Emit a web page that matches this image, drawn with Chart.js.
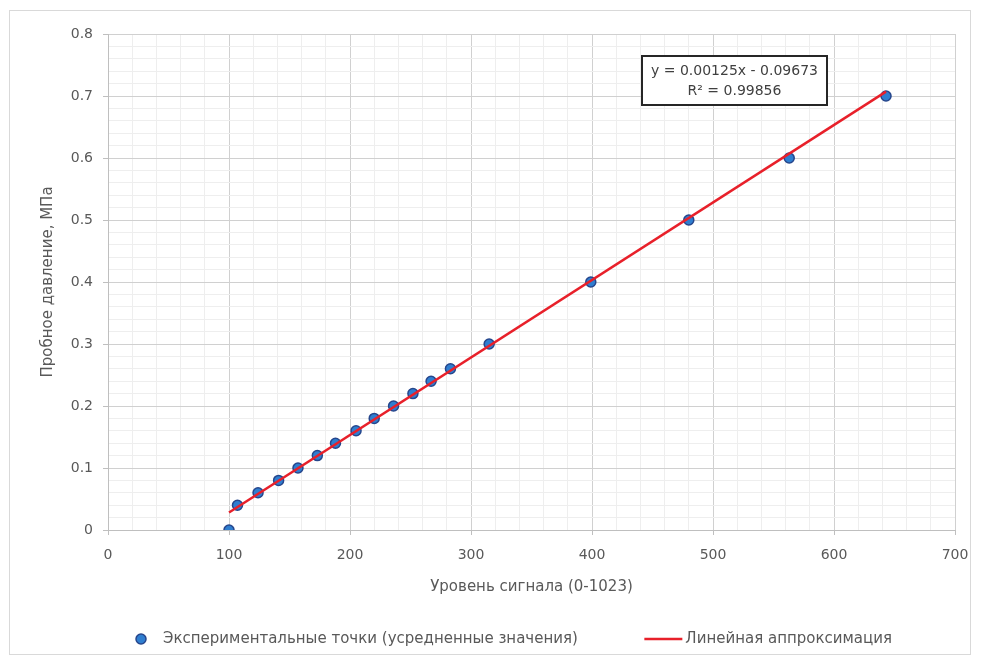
<!DOCTYPE html>
<html>
<head>
<meta charset="utf-8">
<script src="https://cdn.jsdelivr.net/npm/chart.js@4"></script>
<style>
html,body{margin:0;padding:0;background:#fff;}
#wrap{position:relative;width:981px;height:664px;}
canvas{display:block;}
</style>
</head>
<body>
<div id="wrap"><canvas id="c" width="981" height="664"></canvas></div>
<script>
// Data
const signalLevels = [100, 107, 124, 141, 157, 173, 188, 205, 220, 236, 252, 267, 283, 315, 399, 480, 563, 643];
const pressures    = [0, 0.04, 0.06, 0.08, 0.10, 0.12, 0.14, 0.16, 0.18, 0.20, 0.22, 0.24, 0.26, 0.30, 0.40, 0.50, 0.60, 0.70];
const trendSlope = 0.00125;
const trendIntercept = -0.09673;
const trendX = [100, 643];
const trendY = trendX.map(x => trendSlope * x + trendIntercept);
const equationLines = ['y = 0.00125x - 0.09673', 'R² = 0.99856'];
const seriesNames = ['Экспериментальные точки (усредненные значения)', 'Линейная аппроксимация'];
const xTitle = 'Уровень сигнала (0-1023)';
const yTitle = 'Пробное давление, МПа';

const FONT = "'DejaVu Sans', sans-serif";
const TXT = '#595959';
const PT_FILL = '#2F7ED0';
const PT_BORDER = '#26468C';
const LINE_COL = '#E8202A';

const isMajorX = v => Math.abs(v / 100 - Math.round(v / 100)) < 1e-6;
const isMajorY = v => Math.abs(v * 10 - Math.round(v * 10)) < 1e-6;

const frame = {
  id: 'frame',
  beforeDraw(chart) {
    const ctx = chart.ctx;
    ctx.save();
    ctx.fillStyle = '#fff';
    ctx.fillRect(0, 0, chart.width, chart.height);
    ctx.strokeStyle = '#d9d9d9';
    ctx.lineWidth = 1;
    ctx.strokeRect(9.5, 10.5, 961, 644);
    ctx.restore();
  },
  afterDraw(chart) {
    const ctx = chart.ctx;
    const ca = chart.chartArea;
    ctx.save();
    // equation box
    const bx = ca.left + 534, by = ca.top + 22, bw = 185, bh = 49;
    ctx.fillStyle = '#fff';
    ctx.fillRect(bx, by, bw, bh);
    ctx.strokeStyle = '#262626';
    ctx.lineWidth = 2;
    ctx.strokeRect(bx, by, bw, bh);
    ctx.fillStyle = '#404040';
    ctx.font = '14px ' + FONT;
    ctx.textAlign = 'center';
    ctx.textBaseline = 'middle';
    ctx.fillText(equationLines[0], bx + bw / 2, by + 15);
    ctx.fillText(equationLines[1], bx + bw / 2, by + 35);
    // legend
    const ly = 639;
    ctx.font = '15px ' + FONT;
    ctx.beginPath();
    ctx.arc(141, ly, 5, 0, Math.PI * 2);
    ctx.fillStyle = PT_FILL;
    ctx.fill();
    ctx.lineWidth = 1.5;
    ctx.strokeStyle = PT_BORDER;
    ctx.stroke();
    ctx.fillStyle = TXT;
    ctx.textAlign = 'left';
    ctx.fillText(seriesNames[0], 163, ly);
    const w2 = ctx.measureText(seriesNames[1]).width;
    const t2 = 892 - w2;
    ctx.beginPath();
    ctx.moveTo(t2 - 41, ly);
    ctx.lineTo(t2 - 3, ly);
    ctx.strokeStyle = LINE_COL;
    ctx.lineWidth = 2.5;
    ctx.stroke();
    ctx.fillText(seriesNames[1], t2, ly);
    ctx.restore();
  }
};

new Chart(document.getElementById('c'), {
  type: 'scatter',
  data: {
    datasets: [
      {
        type: 'line',
        label: seriesNames[1],
        data: trendX.map((x, i) => ({x, y: trendY[i]})),
        borderColor: LINE_COL,
        borderWidth: 2.5,
        pointRadius: 0,
        fill: false,
        order: 0
      },
      {
        label: seriesNames[0],
        data: signalLevels.map((x, i) => ({x, y: pressures[i]})),
        backgroundColor: PT_FILL,
        borderColor: PT_BORDER,
        borderWidth: 1.5,
        pointRadius: 5,
        order: 1
      }
    ]
  },
  options: {
    responsive: false,
    animation: false,
    layout: {padding: {left: 0, right: 26, top: 34, bottom: 64}},
    plugins: {legend: {display: false}, tooltip: {enabled: false}},
    scales: {
      x: {
        type: 'linear', min: 0, max: 700,
        ticks: {
          stepSize: 20, autoSkip: false, maxRotation: 0, padding: 12,
          color: TXT, font: {family: FONT, size: 14},
          callback: v => isMajorX(v) ? String(Math.round(v)) : ''
        },
        grid: {
          color: ctx => isMajorX(ctx.tick.value) ? '#d0d0d0' : '#eeeeee',
          tickColor: ctx => isMajorX(ctx.tick.value) ? '#bfbfbf' : 'rgba(0,0,0,0)',
          tickLength: 5, lineWidth: 1
        },
        border: {color: '#bfbfbf'},
        title: {display: true, text: xTitle, color: TXT, font: {family: FONT, size: 15}, padding: {top: 0, bottom: 4}},
        afterFit: s => { s.height = 70; }
      },
      y: {
        type: 'linear', min: 0, max: 0.8,
        ticks: {
          stepSize: 0.02, autoSkip: false, padding: 10,
          color: TXT, font: {family: FONT, size: 14},
          callback: v => isMajorY(v) ? String(Math.round(v * 10) / 10) : ''
        },
        grid: {
          color: ctx => isMajorY(ctx.tick.value) ? '#d0d0d0' : '#eeeeee',
          tickColor: ctx => isMajorY(ctx.tick.value) ? '#bfbfbf' : 'rgba(0,0,0,0)',
          tickLength: 5, lineWidth: 1
        },
        border: {color: '#bfbfbf'},
        title: {display: true, text: yTitle, color: TXT, font: {family: FONT, size: 15}, padding: {top: 39, bottom: 0}},
        afterFit: s => { s.width = 108; }
      }
    }
  },
  plugins: [frame]
});
</script>
</body>
</html>
